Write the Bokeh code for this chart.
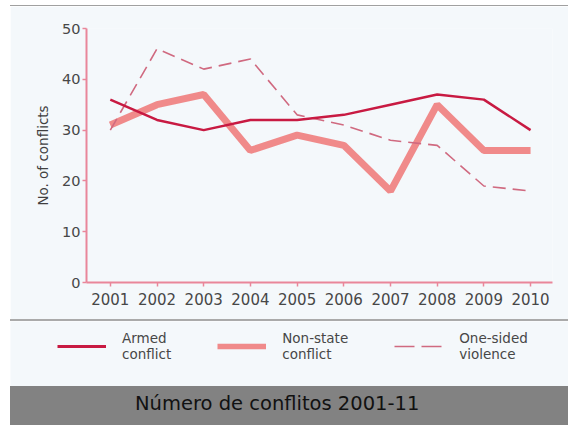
from bokeh.plotting import figure
from bokeh.models import Range1d, FixedTicker, Legend, LegendItem, Div
from bokeh.layouts import column
from bokeh.embed import file_html
from bokeh.resources import INLINE

years = [2001, 2002, 2003, 2004, 2005, 2006, 2007, 2008, 2009, 2010]
armed = [36, 32, 30, 32, 32, 33, 35, 37, 36, 30]
nonstate = [31, 35, 37, 26, 29, 27, 18, 35, 26, 26]
onesided = [30, 46, 42, 44, 33, 31, 28, 27, 19, 18]
y_ticks = [0, 10, 20, 30, 40, 50]
labels = ["Armed\nconflict", "Non-state\nconflict", "One-sided\nviolence"]
caption = "Número de conflitos 2001-11"

BG = "#f4f8fb"
AX = "#e9869a"
C_ARMED = "#c81a42"
C_NON = "#ef8484"
C_ONE = "#d06a80"
FONT = "DejaVu Sans"
TXT = "#474747"

W = 558

top_line = Div(text="", width=W, height=1, margin=0,
               styles={"background-color": "#a0a0a0"})

p = figure(width=W, height=313, output_backend="svg", toolbar_location=None,
           x_range=Range1d(2000.49, 2010.47), y_range=Range1d(0, 50),
           min_border_left=76, min_border_right=16, min_border_top=22, min_border_bottom=37,
           frame_align=False)
p.background_fill_color = BG
p.border_fill_color = BG
p.outline_line_color = None
p.xgrid.grid_line_color = None
p.ygrid.grid_line_color = None

r_non = p.line(years, nonstate, line_color=C_NON, line_width=7, line_alpha=0.95)
r_one = p.line(years, onesided, line_color=C_ONE, line_width=1.6, line_dash="13 7")
r_arm = p.line(years, armed, line_color=C_ARMED, line_width=2.5)

for ax in (p.xaxis[0], p.yaxis[0]):
    ax.axis_line_color = AX
    ax.axis_line_width = 2
    ax.major_tick_line_color = AX
    ax.major_tick_line_width = 1.5
    ax.major_tick_in = 0
    ax.major_tick_out = 4
    ax.minor_tick_line_color = None
    ax.major_label_text_font = FONT
    ax.major_label_text_color = TXT

p.xaxis.ticker = FixedTicker(ticks=years)
p.xaxis.major_label_text_font_size = "15px"
p.xaxis.major_label_standoff = 6
p.yaxis.ticker = FixedTicker(ticks=y_ticks)
p.yaxis.major_label_text_font_size = "14.5px"
p.yaxis.major_label_standoff = 2
p.yaxis.axis_label = "No. of conflicts"
p.yaxis.axis_label_text_font = FONT
p.yaxis.axis_label_text_font_style = "normal"
p.yaxis.axis_label_text_font_size = "13.5px"
p.yaxis.axis_label_text_color = "#404040"
p.yaxis.axis_label_standoff = 8

sep = Div(text="", width=W, height=2, margin=0,
          styles={"background-color": "#aaaaaa"})

q = figure(width=W, height=65, output_backend="svg", toolbar_location=None,
           x_range=Range1d(0, 1), y_range=Range1d(0, 1),
           x_axis_type=None, y_axis_type=None,
           min_border=0, min_border_left=0, min_border_right=0,
           min_border_top=0, min_border_bottom=0, frame_align=False)
q.background_fill_color = BG
q.border_fill_color = BG
q.outline_line_color = None
l1 = q.line(years, armed, line_color=C_ARMED, line_width=3)
l2 = q.line(years, nonstate, line_color=C_NON, line_width=5.5, line_alpha=0.95)
l3 = q.line(years, onesided, line_color=C_ONE, line_width=1.6, line_dash="20 7")

legend = Legend(items=[LegendItem(label=labels[0], renderers=[l1]),
                       LegendItem(label=labels[1], renderers=[l2]),
                       LegendItem(label=labels[2], renderers=[l3])],
                orientation="horizontal", location=(47, 24),
                glyph_width=49, glyph_height=20, label_standoff=16, spacing=46,
                padding=0, margin=0,
                label_text_font=FONT, label_text_font_size="13.5px",
                label_text_color=TXT,
                border_line_alpha=0, background_fill_alpha=0)
q.add_layout(legend)

band = Div(text=caption, width=W, height=39, margin=0,
           styles={"background-color": "#828282", "color": "#111111",
                   "font-family": FONT, "font-size": "19.5px",
                   "line-height": "36px", "padding-left": "125px",
                   "box-sizing": "border-box", "white-space": "nowrap"})

layout = column(top_line, p, sep, q, band, spacing=0, margin=(5, 0, 0, 10))
open("out.html", "w").write(file_html(layout, INLINE))
